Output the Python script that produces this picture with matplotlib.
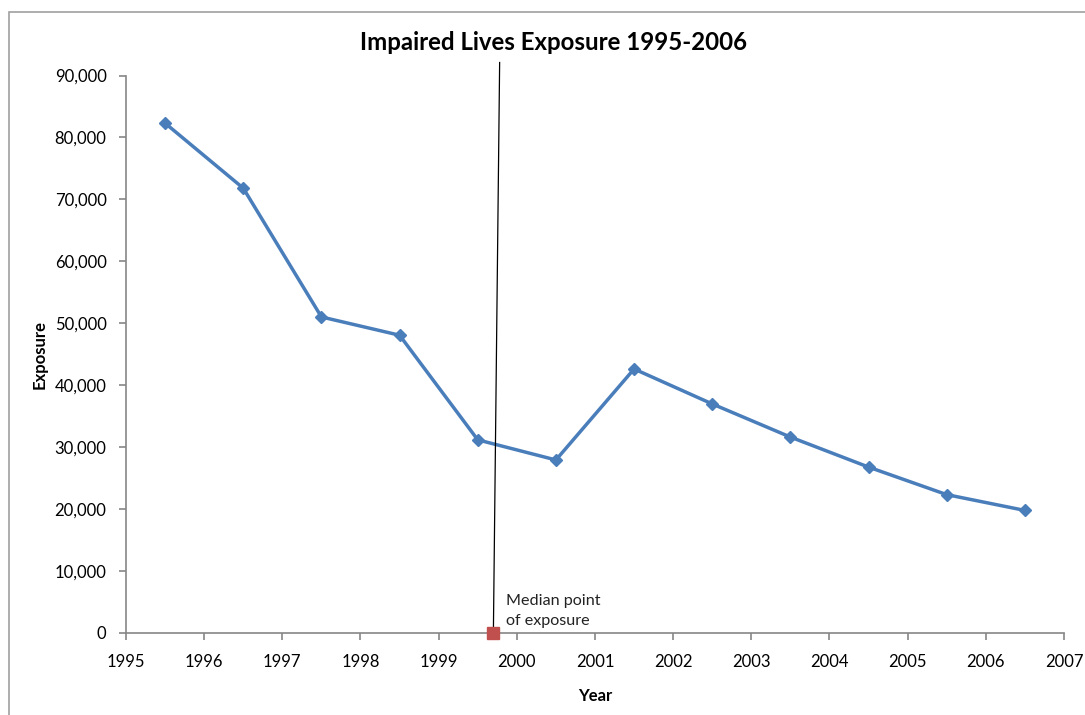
"""
Impaired lives exposure by year, Excel-style line chart with median marker.
Produces: out.png
"""
import matplotlib
matplotlib.use("Agg")
import matplotlib.pyplot as plt
from matplotlib.patches import Rectangle
from matplotlib.ticker import FuncFormatter, MultipleLocator

LINE_COLOR   = "#4a7ebb"   # excel blue
MEDIAN_COLOR = "#c0504d"   # excel red
AXIS_COLOR   = "#868686"

years    = [1995.5, 1996.5, 1997.5, 1998.5, 1999.5, 2000.5,
            2001.5, 2002.5, 2003.5, 2004.5, 2005.5, 2006.5]
exposure = [82300, 71800, 51000, 48050, 31150, 27900,
            42600, 36950, 31600, 26750, 22300, 19750]

median_year = 1999.7
median_line_top = (1999.78, 92100)
median_label = "Median point\nof exposure"

plt.rcParams["font.family"] = ["Lato", "DejaVu Sans"]

fig = plt.figure(figsize=(10.85, 7.15), dpi=100)
ax = fig.add_axes([126 / 1085, 1 - 632.7 / 715, 938 / 1085, 557.2 / 715])

# outer chart frame (runs off right/bottom edges like the screenshot)
fig.patches.append(Rectangle((9 / 1085, -0.05), 1.2, 1 - 12 / 715 + 0.05,
                             transform=fig.transFigure, fill=False,
                             edgecolor="#a0a0a0", linewidth=1.2))

ax.plot(years, exposure, color=LINE_COLOR, linewidth=2.5, marker="D",
        markersize=6.5, markerfacecolor=LINE_COLOR, markeredgecolor=LINE_COLOR,
        zorder=3)

# median marker + pointer line
ax.plot([median_year, median_line_top[0]], [0, median_line_top[1]],
        color="black", linewidth=0.9, clip_on=False, zorder=4)
ax.plot([median_year], [0], marker="s", markersize=9, color=MEDIAN_COLOR,
        clip_on=False, zorder=5)
ax.text(1999.86, 700, median_label, fontsize=11.6, ha="left", va="bottom",
        linespacing=1.55, color="#222222")

ax.set_xlim(1995, 2007)
ax.set_ylim(0, 90000)
ax.xaxis.set_major_locator(MultipleLocator(1))
ax.yaxis.set_major_locator(MultipleLocator(10000))
ax.yaxis.set_major_formatter(FuncFormatter(lambda v, _: f"{int(v):,}"))

for side in ("top", "right"):
    ax.spines[side].set_visible(False)
for side in ("left", "bottom"):
    ax.spines[side].set_color(AXIS_COLOR)
    ax.spines[side].set_linewidth(1.2)

ax.tick_params(axis="both", direction="out", length=5, width=1.2,
               color=AXIS_COLOR, labelsize=12, labelcolor="black")
ax.tick_params(axis="y", pad=9)
ax.tick_params(axis="x", pad=10)

ax.set_xlabel("Year", fontsize=12, fontweight="bold", labelpad=13)
ax.set_ylabel("Exposure", fontsize=12, fontweight="bold", labelpad=5)

fig.text(553.5 / 1085, 1 - 42 / 715, "Impaired Lives Exposure 1995-2006",
         ha="center", va="center", fontsize=17.3, fontweight="bold")

fig.savefig("out.png", dpi=100, facecolor="white")
